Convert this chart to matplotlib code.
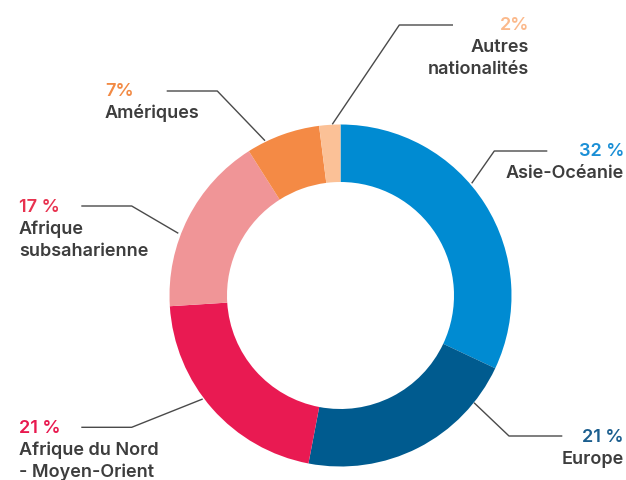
import matplotlib
matplotlib.use("Agg")
import matplotlib.pyplot as plt

# Share of students by region of origin
regions = ["Asie-Océanie", "Europe", "Afrique du Nord\n- Moyen-Orient",
           "Afrique\nsubsaharienne", "Amériques", "Autres\nnationalités"]
shares = [32, 21, 21, 17, 7, 2]
pct_labels = ["32 %", "21 %", "21 %", "17 %", "7%", "2%"]

colors = ["#008BD2", "#005B8F", "#E91A52", "#F09597", "#F48A45", "#FBC197"]
pct_colors = ["#1A8FD6", "#1B5E8E", "#E8194F", "#E8324F", "#F28A44", "#FBB98B"]

W, H = 626, 480
CX, CY = 340.5, 295.5
R_OUT, R_IN = 171, 113.5

# label layout in pixel coordinates (y down):
# text anchor x, alignment, leader line y, leader line points
layout = [
    (624, "right", 151, [(471.7, 183.3), (494.3, 151), (547.3, 151)]),
    (624, "right", 436, [(474, 402.7), (509, 436), (562.3, 436)]),
    (19, "left", 427.3, [(202.7, 399), (131.7, 427.3), (81.3, 427.3)]),
    (19, "left", 206, [(178.3, 233.3), (131.7, 206), (81.3, 206)]),
    (105, "left", 91, [(265, 140.7), (217.3, 91), (166.7, 91)]),
    (529, "right", 25, [(332.3, 124.3), (399.3, 25), (453, 25)]),
]

text_grey = "#3D3D3D"
line_grey = "#4A4A4A"

fig = plt.figure(figsize=(W / 100, H / 100), dpi=100)
ax = fig.add_axes([0, 0, 1, 1])


def fy(y):
    return H - y


ax.pie(shares, colors=colors, startangle=90, counterclock=False,
       radius=R_OUT, center=(CX, fy(CY)),
       wedgeprops=dict(width=R_OUT - R_IN, linewidth=0))

font = dict(family="Inter", weight="semibold", fontsize=13.0)
for name, pct, pc, (tx, ha, ly, pts) in zip(regions, pct_labels, pct_colors, layout):
    xs = [p[0] for p in pts]
    ys = [fy(p[1]) for p in pts]
    ax.plot(xs, ys, color=line_grey, lw=1.0, solid_capstyle="butt")
    base = ly + 5.5
    ax.text(tx, fy(base), pct, color=pc, ha=ha, va="baseline", **font)
    for i, line in enumerate(name.split("\n")):
        ax.text(tx, fy(base + 22 * (i + 1)), line, color=text_grey,
                ha=ha, va="baseline", **font)

ax.set_xlim(0, W)
ax.set_ylim(0, H)
ax.set_aspect("auto")
ax.axis("off")

fig.savefig("out.png", dpi=100)
